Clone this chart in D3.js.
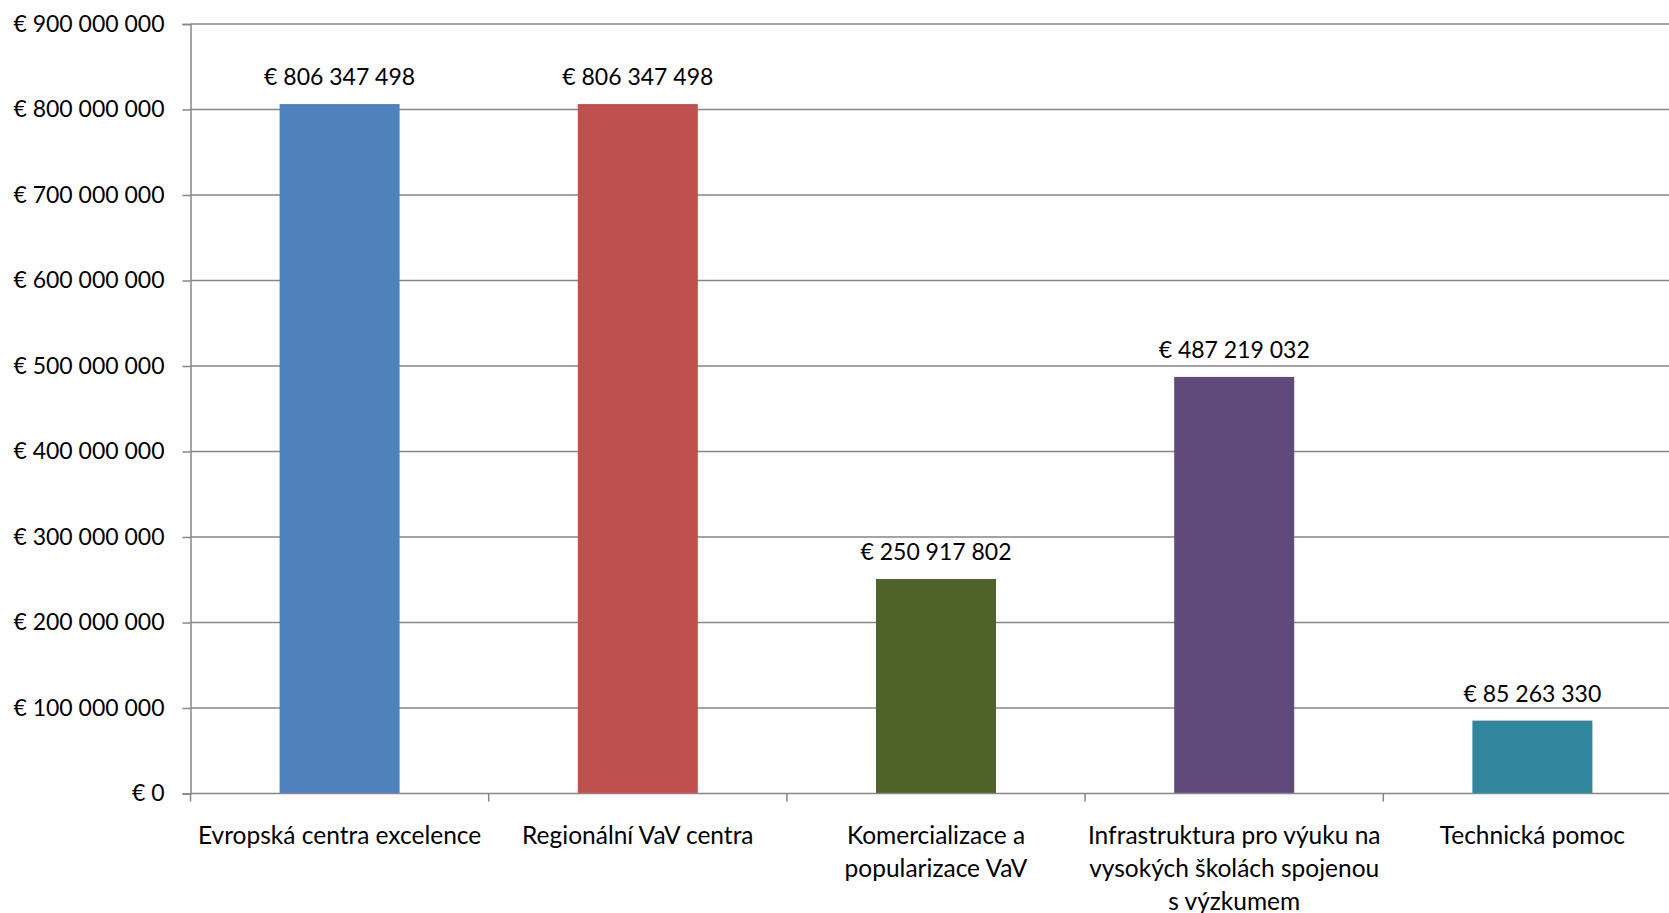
<!DOCTYPE html>
<html><head><meta charset="utf-8">
<script src="https://cdn.jsdelivr.net/npm/d3@7"></script>
<style>
html,body{margin:0;padding:0;background:#fff;overflow:hidden}
svg{display:block;font-family:Lato,"Open Sans",sans-serif}
</style></head>
<body>
<svg id="chart" width="1669" height="913"></svg>
<script>
const categories = [
  ["Evropská centra excelence"],
  ["Regionální VaV centra"],
  ["Komercializace a", "popularizace VaV"],
  ["Infrastruktura pro výuku na", "vysokých školách spojenou", "s výzkumem"],
  ["Technická pomoc"]
];
const values = [806347498, 806347498, 250917802, 487219032, 85263330];
const valueLabels = ["€ 806 347 498", "€ 806 347 498", "€ 250 917 802", "€ 487 219 032", "€ 85 263 330"];
const colors = ["#4F81BD", "#C0504D", "#4F6228", "#604A7B", "#31859C"];
const yTicks = [0, 100000000, 200000000, 300000000, 400000000, 500000000, 600000000, 700000000, 800000000, 900000000];
const yTickLabels = ["€ 0", "€ 100 000 000", "€ 200 000 000", "€ 300 000 000", "€ 400 000 000", "€ 500 000 000", "€ 600 000 000", "€ 700 000 000", "€ 800 000 000", "€ 900 000 000"];

const svg = d3.select("#chart");
const mLeft = 190.5, mRight = 1681.5, mTop = 24, mBottom = 793.5;
const axisColor = "#868686";
const fsNum = 23, fsCat = 24.5;

const x = d3.scaleBand().domain(d3.range(categories.length)).range([mLeft, mRight]).paddingInner(0).paddingOuter(0);
const y = d3.scaleLinear().domain([0, 900000000]).range([mBottom, mTop]);
const barW = 120;

// gridlines
svg.append("g").selectAll("line").data(yTicks.filter(d => d > 0)).join("line")
  .attr("x1", mLeft).attr("x2", mRight)
  .attr("y1", d => y(d)).attr("y2", d => y(d))
  .attr("stroke", axisColor).attr("stroke-width", 1.5);

// bars
svg.append("g").selectAll("rect").data(values).join("rect")
  .attr("x", (d, i) => x(i) + x.bandwidth() / 2 - barW / 2)
  .attr("width", barW)
  .attr("y", d => y(d))
  .attr("height", d => y(0) - y(d))
  .attr("fill", (d, i) => colors[i]);

// y axis
const yAxis = d3.axisLeft(y).tickValues(yTicks).tickSize(8).tickPadding(18)
  .tickFormat((d, i) => yTickLabels[i]);
const gy = svg.append("g").attr("transform", `translate(${mLeft},0)`).call(yAxis);
gy.select(".domain").attr("stroke", axisColor).attr("stroke-width", 1.5);
gy.selectAll(".tick line").attr("stroke", axisColor).attr("stroke-width", 1.5);
gy.selectAll(".tick text").attr("font-size", fsNum).attr("font-family", "Lato").attr("fill", "#000");

// x axis line and ticks
const xb = d3.range(categories.length + 1).map(i => mLeft + i * x.bandwidth());
svg.append("line").attr("x1", mLeft).attr("x2", mRight).attr("y1", mBottom).attr("y2", mBottom)
  .attr("stroke", axisColor).attr("stroke-width", 1.5);
svg.append("g").selectAll("line").data(xb).join("line")
  .attr("x1", d => d).attr("x2", d => d).attr("y1", mBottom).attr("y2", mBottom + 8)
  .attr("stroke", axisColor).attr("stroke-width", 1.5);

// category labels
const lab = svg.append("g").selectAll("text").data(categories).join("text")
  .attr("text-anchor", "middle").attr("font-size", fsCat).attr("fill", "#000")
  .attr("transform", (d, i) => `translate(${x(i) + x.bandwidth() / 2},${mBottom + 50})`);
lab.selectAll("tspan").data(d => d).join("tspan")
  .attr("x", 0).attr("dy", (d, i) => i === 0 ? 0 : 33).text(d => d);

// value labels
svg.append("g").selectAll("text").data(values).join("text")
  .attr("text-anchor", "middle").attr("font-size", fsNum).attr("fill", "#000")
  .attr("x", (d, i) => x(i) + x.bandwidth() / 2)
  .attr("y", d => y(d) - 19)
  .text((d, i) => valueLabels[i]);
</script>
</body></html>
